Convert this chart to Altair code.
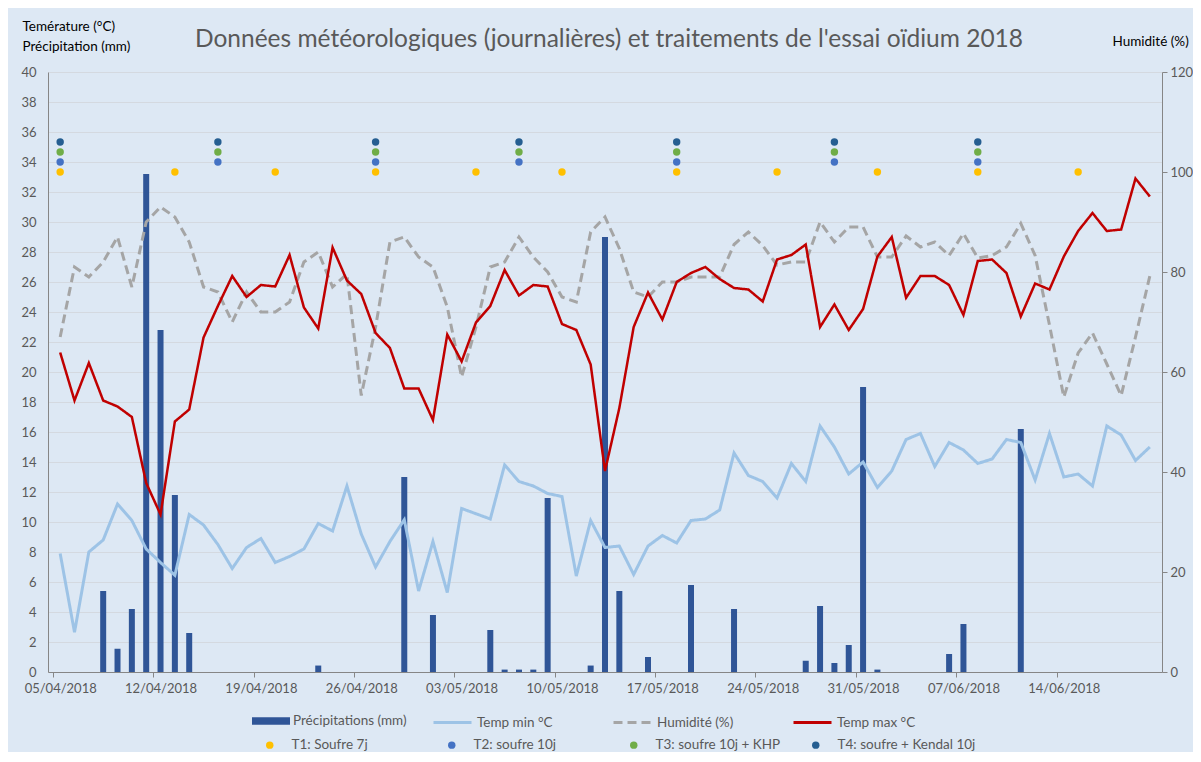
import json
import altair as alt
import pandas as pd

FONT = "Lato"
GREY_TXT = "#595959"
AXIS_LINE = "#868686"
BG = "#DDE8F4"

N_DAYS = 77
days = list(range(N_DAYS))
dates = pd.date_range("2018-04-05", periods=N_DAYS, freq="D").strftime("%d/%m/%Y").tolist()

precipitation = [0, 0, 0, 5.4, 1.55, 4.2, 33.2, 22.8, 11.8, 2.6,
                 0, 0, 0, 0, 0, 0, 0, 0, 0.43, 0,
                 0, 0, 0, 0, 13.0, 0, 3.8, 0, 0, 0,
                 2.8, 0.16, 0.16, 0.16, 11.6, 0, 0, 0.43, 29.0, 5.4,
                 0, 1.0, 0, 0, 5.8, 0, 0, 4.2, 0, 0,
                 0, 0, 0.75, 4.4, 0.6, 1.8, 19.0, 0.16, 0, 0,
                 0, 0, 1.2, 3.2, 0, 0, 0, 16.2, 0, 0,
                 0, 0, 0, 0, 0, 0, 0]

temp_min = [7.9, 2.65, 8.0, 8.8, 11.2, 10.1, 8.2, 7.3, 6.45, 10.5,
            9.8, 8.5, 6.9, 8.3, 8.9, 7.3, 7.7, 8.2, 9.9, 9.4,
            12.4, 9.2, 7.0, 8.7, 10.15, 5.4, 8.7, 5.3, 10.9, 10.55,
            10.2, 13.8, 12.7, 12.4, 11.9, 11.7, 6.4, 10.1, 8.3, 8.4,
            6.5, 8.4, 9.1, 8.6, 10.1, 10.2, 10.8, 14.6, 13.1, 12.7,
            11.6, 13.9, 12.7, 16.4, 15.0, 13.2, 14.0, 12.3, 13.4, 15.5,
            15.9, 13.7, 15.3, 14.8, 13.9, 14.2, 15.5, 15.3, 12.8, 15.9,
            13.0, 13.2, 12.4, 16.4, 15.8, 14.1, 15.0]

temp_max = [21.3, 18.1, 20.6, 18.1, 17.7, 17.0, 12.6, 10.5, 16.7, 17.5,
            22.3, 24.4, 26.4, 25.0, 25.8, 25.7, 27.8, 24.3, 22.9, 28.3,
            26.1, 25.2, 22.6, 21.6, 18.9, 18.9, 16.8, 22.5, 20.7, 23.3,
            24.4, 26.8, 25.1, 25.8, 25.7, 23.2, 22.8, 20.5, 13.4, 17.6,
            23.0, 25.3, 23.5, 26.0, 26.6, 27.0, 26.2, 25.6, 25.5, 24.7,
            27.5, 27.8, 28.5, 23.0, 24.5, 22.8, 24.2, 27.7, 29.0, 24.95,
            26.4, 26.4, 25.8, 23.8, 27.4, 27.5, 26.6, 23.7, 25.9, 25.5,
            27.7, 29.4, 30.6, 29.4, 29.5, 32.9, 31.7]

humidity = [67, 81, 79, 82, 87, 77, 90, 93, 91, 86,
            77, 76, 70, 76, 72, 72, 74, 82, 84, 77,
            79.6, 55.3, 69, 86, 87, 83, 81, 73, 59, 69,
            81, 82, 87, 83, 80, 75, 74, 88, 91, 84.7,
            76, 75, 78, 78, 79, 79, 79, 85.5, 88, 85.3,
            81.4, 82, 82, 90, 86, 89, 89, 83, 83, 87.2,
            85, 86, 83.3, 87.7, 82.8, 83.3, 85, 89.7, 83.3, 69.4,
            55, 63.8, 67.8, 61.6, 55.3, 67, 79.2]

x_tick_days = [0, 7, 14, 21, 28, 35, 42, 49, 56, 63, 70]
x_tick_labels = ["05/04/2018", "12/04/2018", "19/04/2018", "26/04/2018", "03/05/2018",
                 "10/05/2018", "17/05/2018", "24/05/2018", "31/05/2018", "07/06/2018",
                 "14/06/2018"]

series_names = ["Précipitations (mm)", "Temp min °C", "Humidité (%)", "Temp max °C"]
line_names = series_names[1:]
line_colors = ["#9DC3E6", "#A5A5A5", "#C00000"]
line_dashes = [[1, 0], [9, 5], [1, 0]]
bar_color = "#2F5597"

treatment_names = ["T1: Soufre 7j", "T2: soufre 10j", "T3: soufre 10j + KHP", "T4: soufre + Kendal 10j"]
treatment_colors = ["#FFC000", "#4472C4", "#70AD47", "#255E91"]
treatment_levels = [100, 102, 104, 106]
t1_days = [0, 8, 15, 22, 29, 35, 43, 50, 57, 64, 71]
t2_days = [0, 11, 22, 32, 43, 54, 64]
t3_days = [0, 11, 22, 32, 43, 54, 64]
t4_days = [0, 11, 22, 32, 43, 54, 64]
treatment_days = [t1_days, t2_days, t3_days, t4_days]

W, H = 1114, 600
HALF_DAY = W / N_DAYS / 2

def series_df(values, name):
    return pd.DataFrame({"day": days, "date": dates, "value": values, "serie": name})

bar_df = series_df(precipitation, series_names[0])
tmin_df = series_df(temp_min, series_names[1])
hum_df = series_df(humidity, series_names[2])
tmax_df = series_df(temp_max, series_names[3])

rows = []
for name, lvl, dlist in zip(treatment_names, treatment_levels, treatment_days):
    for d in dlist:
        rows.append({"day": d, "date": dates[d], "treatment": name, "level": lvl})
treat_df = pd.DataFrame(rows)

label_expr = json.dumps(x_tick_labels, ensure_ascii=False) + "[round(datum.value / 7)]"
x_scale = alt.Scale(domain=[-0.5, N_DAYS - 0.5], nice=False, zero=False)
x_axis = alt.Axis(values=x_tick_days, labelExpr=label_expr, tickOffset=-HALF_DAY,
                  labelOffset=HALF_DAY, labelFlush=False, labelOverlap=False, grid=False,
                  domainColor=AXIS_LINE, tickColor=AXIS_LINE, tickSize=5, labelPadding=5,
                  labelFont=FONT, labelFontSize=13, labelColor=GREY_TXT, title=None)
X = alt.X("day:Q", scale=x_scale, axis=x_axis)

yl_scale = alt.Scale(domain=[0, 40], nice=False, zero=True)
yl_axis = alt.Axis(orient="left", values=list(range(0, 41, 2)), grid=True, gridColor="#D4D9E0",
                   gridWidth=1, domain=True, domainColor=AXIS_LINE, ticks=False, tickSize=0,
                   labelPadding=12, labelFont=FONT, labelFontSize=13, labelColor=GREY_TXT,
                   title=["Temérature (°C)", "Précipitation (mm)"], titleAngle=0,
                   titleAlign="left", titleBaseline="alphabetic", titleX=-26, titleY=-42,
                   titleFont=FONT, titleFontSize=13.5, titleFontWeight="normal",
                   titleColor="black", titleLineHeight=20)

yr_scale = alt.Scale(domain=[0, 120], nice=False, zero=True)
yr_axis = alt.Axis(orient="right", values=list(range(0, 121, 20)), grid=False, domain=True,
                   domainColor=AXIS_LINE, ticks=True, tickColor=AXIS_LINE, tickSize=5,
                   labelPadding=3, labelFont=FONT, labelFontSize=13, labelColor=GREY_TXT,
                   title="Humidité (%)", titleAngle=0, titleAlign="left",
                   titleBaseline="alphabetic", titleX=-50, titleY=-27, titleFont=FONT,
                   titleFontSize=13.5, titleFontWeight="normal", titleColor="black")

common_leg = dict(orient="none", title=None, labelFont=FONT, labelFontSize=13.5,
                  labelColor=GREY_TXT, direction="horizontal")
bar_legend = alt.Legend(**common_leg, legendX=204, legendY=630,
                        symbolType="M-1,-0.2H1V0.2H-1Z", symbolSize=1444,
                        symbolStrokeWidth=0, labelOffset=3)
line_legend = alt.Legend(**common_leg, legendX=384, legendY=630, symbolType="stroke",
                         symbolSize=1444, symbolStrokeWidth=3, labelOffset=4,
                         columnPadding=51, gridAlign="all")
pt_legend = alt.Legend(**common_leg, legendX=215, legendY=666, symbolType="circle",
                       symbolSize=55, symbolStrokeWidth=0, labelOffset=15,
                       columnPadding=15, gridAlign="all")

stroke_enc = alt.Stroke("serie:N", scale=alt.Scale(domain=line_names, range=line_colors),
                        legend=line_legend)
dash_enc = alt.StrokeDash("serie:N", scale=alt.Scale(domain=line_names, range=line_dashes),
                          legend=line_legend)

bars = alt.Chart(bar_df).mark_bar(size=6).encode(
    x=X,
    y=alt.Y("value:Q", scale=yl_scale, axis=yl_axis),
    fill=alt.Fill("serie:N", scale=alt.Scale(domain=[series_names[0]], range=[bar_color]),
                  legend=bar_legend),
)

tmin_line = alt.Chart(tmin_df).mark_line(strokeWidth=3).encode(
    x=X, y=alt.Y("value:Q", scale=yl_scale, axis=yl_axis),
    stroke=stroke_enc, strokeDash=dash_enc,
)

hum_line = alt.Chart(hum_df).mark_line(strokeWidth=3).encode(
    x=X, y=alt.Y("value:Q", scale=yr_scale, axis=yr_axis),
    stroke=stroke_enc, strokeDash=dash_enc,
)

tmax_line = alt.Chart(tmax_df).mark_line(strokeWidth=2.5).encode(
    x=X, y=alt.Y("value:Q", scale=yl_scale, axis=None),
    stroke=stroke_enc, strokeDash=dash_enc,
)

markers = alt.Chart(treat_df).mark_circle(size=55, opacity=1).encode(
    x=X, y=alt.Y("level:Q", scale=yr_scale, axis=None),
    color=alt.Color("treatment:N",
                    scale=alt.Scale(domain=treatment_names, range=treatment_colors),
                    legend=pt_legend),
)

left = alt.layer(bars, tmin_line)

chart = alt.layer(left, hum_line, tmax_line, markers).resolve_scale(
    y="independent"
).properties(
    width=W,
    height=H,
    padding={"left": 40, "top": 64, "right": 31, "bottom": 80},
    autosize=alt.AutoSizeParams(type="none"),
    title=alt.TitleParams(
        text="Données météorologiques (journalières) et traitements de l'essai oïdium 2018",
        font=FONT, fontSize=24.5, fontWeight="normal", color=GREY_TXT, anchor="middle",
        frame="group", baseline="alphabetic", offset=0, dy=52, dx=4,
    ),
).configure(background=BG).configure_view(stroke=None)

chart.save("out.html", embed_options={"renderer": "svg", "actions": False})
